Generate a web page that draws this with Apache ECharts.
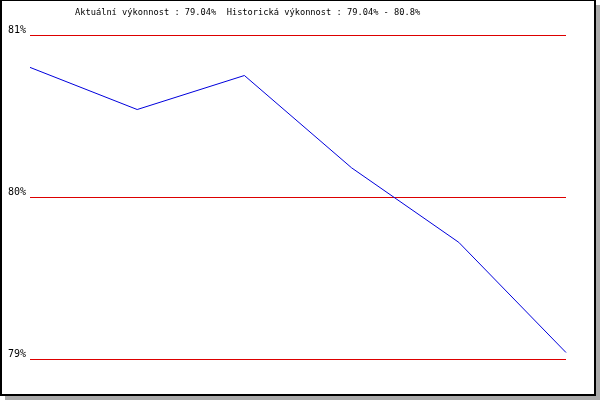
<!DOCTYPE html>
<html>
<head>
<meta charset="utf-8">
<script src="https://cdn.jsdelivr.net/npm/echarts@6/dist/echarts.min.js"></script>
<style>
html,body{margin:0;padding:0;background:#fff;}
#c{width:600px;height:400px;}
</style>
</head>
<body>
<div id="c"></div>
<script>
const categories = ['1', '2', '3', '4', '5', '6'];
const values = [80.80, 80.54, 80.75, 80.18, 79.72, 79.04];
const titleText = 'Aktuální výkonnost : 79.04%  Historická výkonnost : 79.04% - 80.8%';
const yMin = 79, yMax = 81, yInterval = 1;

const chart = echarts.init(document.getElementById('c'), null, {renderer: 'canvas'});
chart.setOption({
  animation: false,
  backgroundColor: '#fff',
  graphic: [
    {type: 'rect', z: -10, silent: true, shape: {x: 5, y: 5, width: 595, height: 395}, style: {fill: '#aaaaaa'}},
    {type: 'rect', z: -9, silent: true, shape: {x: 0, y: 0, width: 596, height: 396}, style: {fill: '#000'}},
    {type: 'rect', z: -8, silent: true, shape: {x: 2, y: 1, width: 592, height: 393}, style: {fill: '#fff'}}
  ],
  title: {
    text: titleText,
    left: 75,
    top: 8,
    padding: 0,
    textStyle: {fontFamily: 'DejaVu Sans Mono', fontSize: 8.7, fontWeight: 'normal', color: '#000'}
  },
  grid: {left: 30, right: 34, top: 35, bottom: 41, containLabel: false},
  xAxis: {
    type: 'category',
    data: categories,
    boundaryGap: false,
    show: false
  },
  yAxis: {
    type: 'value',
    min: yMin,
    max: yMax,
    interval: yInterval,
    axisLine: {show: false},
    axisTick: {show: false},
    splitLine: {show: true, lineStyle: {color: '#dd0000', width: 1}},
    axisLabel: {
      formatter: '{value}%',
      fontFamily: 'DejaVu Sans Mono',
      fontSize: 10,
      color: '#000',
      margin: 4,
      verticalAlign: 'bottom',
      lineHeight: 10
    }
  },
  series: [{
    type: 'line',
    data: values,
    showSymbol: false,
    symbol: 'none',
    lineStyle: {color: '#0000dd', width: 1},
    itemStyle: {color: '#0000dd'}
  }]
});
</script>
</body>
</html>
